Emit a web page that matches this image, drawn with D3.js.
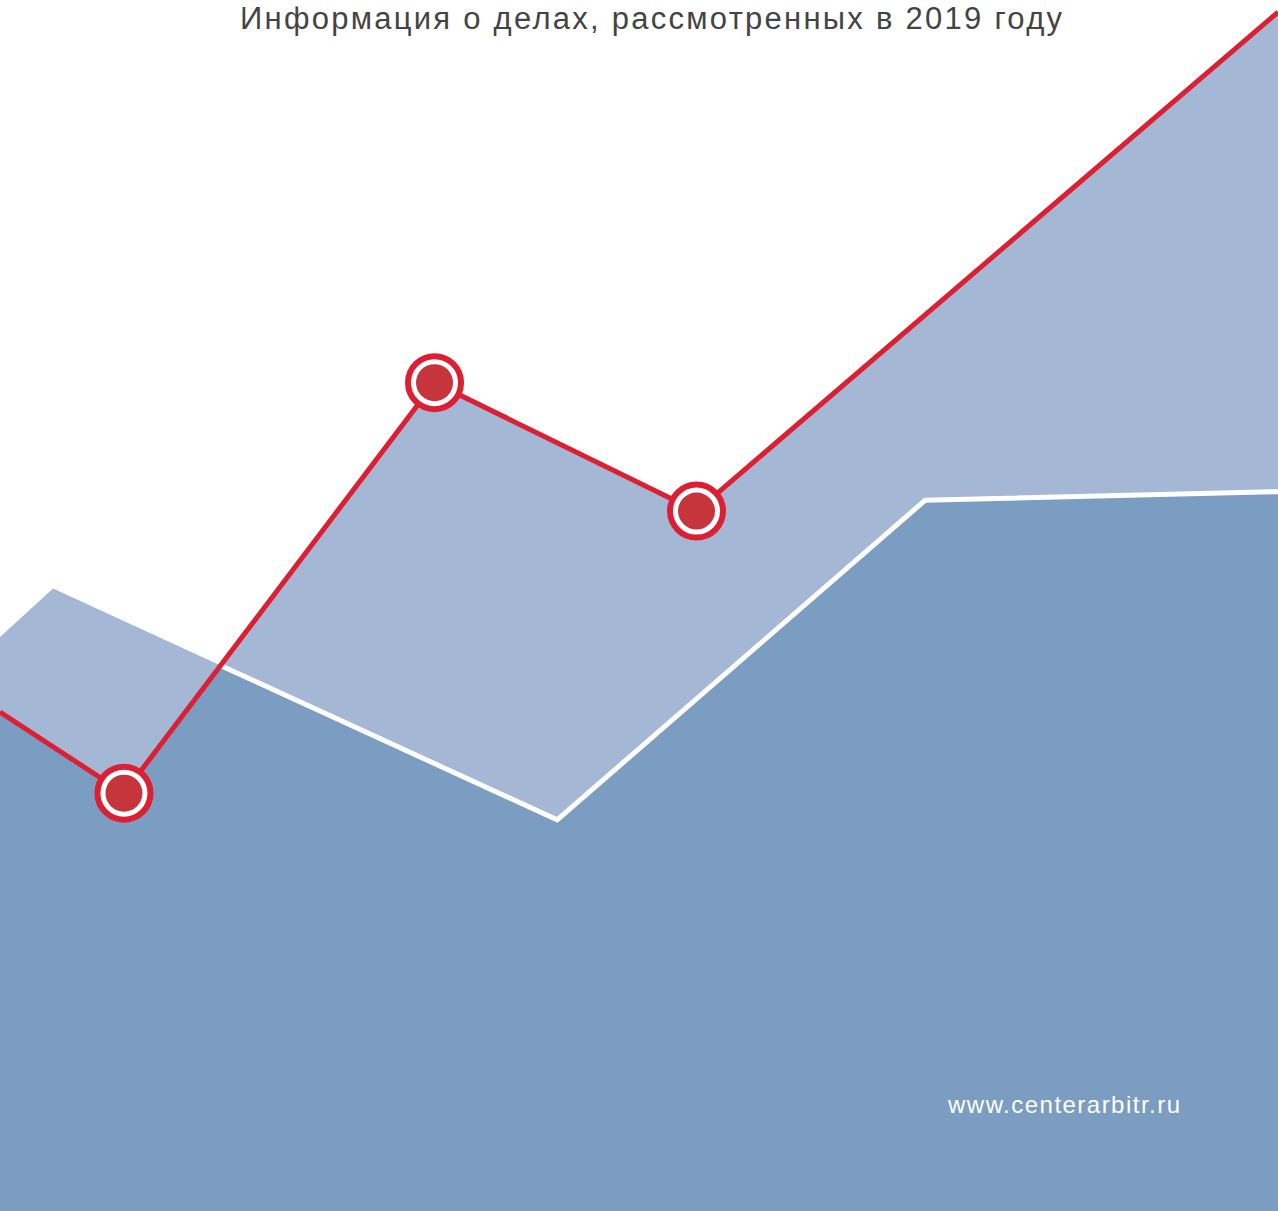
<!DOCTYPE html>
<html>
<head>
<meta charset="utf-8">
<script src="https://cdn.jsdelivr.net/npm/d3@7"></script>
<style>
  html, body { margin: 0; padding: 0; background: #fff; }
  svg { display: block; }
</style>
</head>
<body>
<div id="chart"></div>
<script>
// Values (x in % of width, y in arbitrary units 0..100)
const title = "Информация о делах, рассмотренных в 2019 году";
const source = "www.centerarbitr.ru";

const areaX = [0, 4.15, 43.6, 72.4, 100];
const areaY = [47.4, 51.4, 32.3, 58.7, 59.4];

const lineX = [0, 9.7, 34.0, 54.5, 100];
const lineY = [41.2, 34.5, 68.4, 57.8, 99.0];
const markerIdx = [1, 2, 3];

const W = 1278, H = 1211;

const svg = d3.select("#chart").append("svg")
    .attr("width", W)
    .attr("height", H);

const x = d3.scaleLinear().domain([0, 100]).range([0, W]);
const y = d3.scaleLinear().domain([0, 100]).range([H, 0]);

const areaData = areaX.map((d, i) => ({ x: d, y: areaY[i] }));
const lineData = lineX.map((d, i) => ({ x: d, y: lineY[i] }));

const area = d3.area().x(d => x(d.x)).y0(H).y1(d => y(d.y));
const line = d3.line().x(d => x(d.x)).y(d => y(d.y));

// clip = region under the red line
svg.append("clipPath").attr("id", "under-red")
    .append("path").attr("d", area(lineData));

// light area: union of the two
svg.append("path").attr("d", area(areaData)).attr("fill", "#a4b7d5");
svg.append("path").attr("d", area(lineData)).attr("fill", "#a4b7d5");

// dark area below both
const darkG = svg.append("g").attr("clip-path", "url(#under-red)");
darkG.append("path").attr("d", area(areaData)).attr("fill", "#7b9dc2");
darkG.append("path").attr("d", line(areaData))
    .attr("fill", "none")
    .attr("stroke", "#fff")
    .attr("stroke-width", 5)
    .attr("stroke-linejoin", "miter");

// red line
svg.append("path").attr("d", line(lineData))
    .attr("fill", "none")
    .attr("stroke", "#dc1f33")
    .attr("stroke-width", 5)
    .attr("stroke-linejoin", "miter");

const markers = svg.selectAll("g.marker")
    .data(markerIdx.map(i => lineData[i]))
    .enter().append("g")
    .attr("class", "marker")
    .attr("transform", d => `translate(${x(d.x)},${y(d.y)})`);

markers.append("circle")
    .attr("r", 26.5)
    .attr("fill", "#fff")
    .attr("stroke", "#dc1f33")
    .attr("stroke-width", 6);

markers.append("circle")
    .attr("r", 18.5)
    .attr("fill", "#c6343c");

svg.append("text")
    .attr("x", 651)
    .attr("y", 29)
    .attr("text-anchor", "middle")
    .attr("font-family", "Liberation Sans, Arial, sans-serif")
    .attr("font-size", 31)
    .attr("fill", "#444")
    .attr("textLength", 822)
    .attr("lengthAdjust", "spacing")
    .text(title);

svg.append("text")
    .attr("x", 948)
    .attr("y", 1113)
    .attr("font-family", "Liberation Sans, Arial, sans-serif")
    .attr("font-size", 24)
    .attr("fill", "#fff")
    .attr("textLength", 232)
    .attr("lengthAdjust", "spacing")
    .text(source);
</script>
</body>
</html>
